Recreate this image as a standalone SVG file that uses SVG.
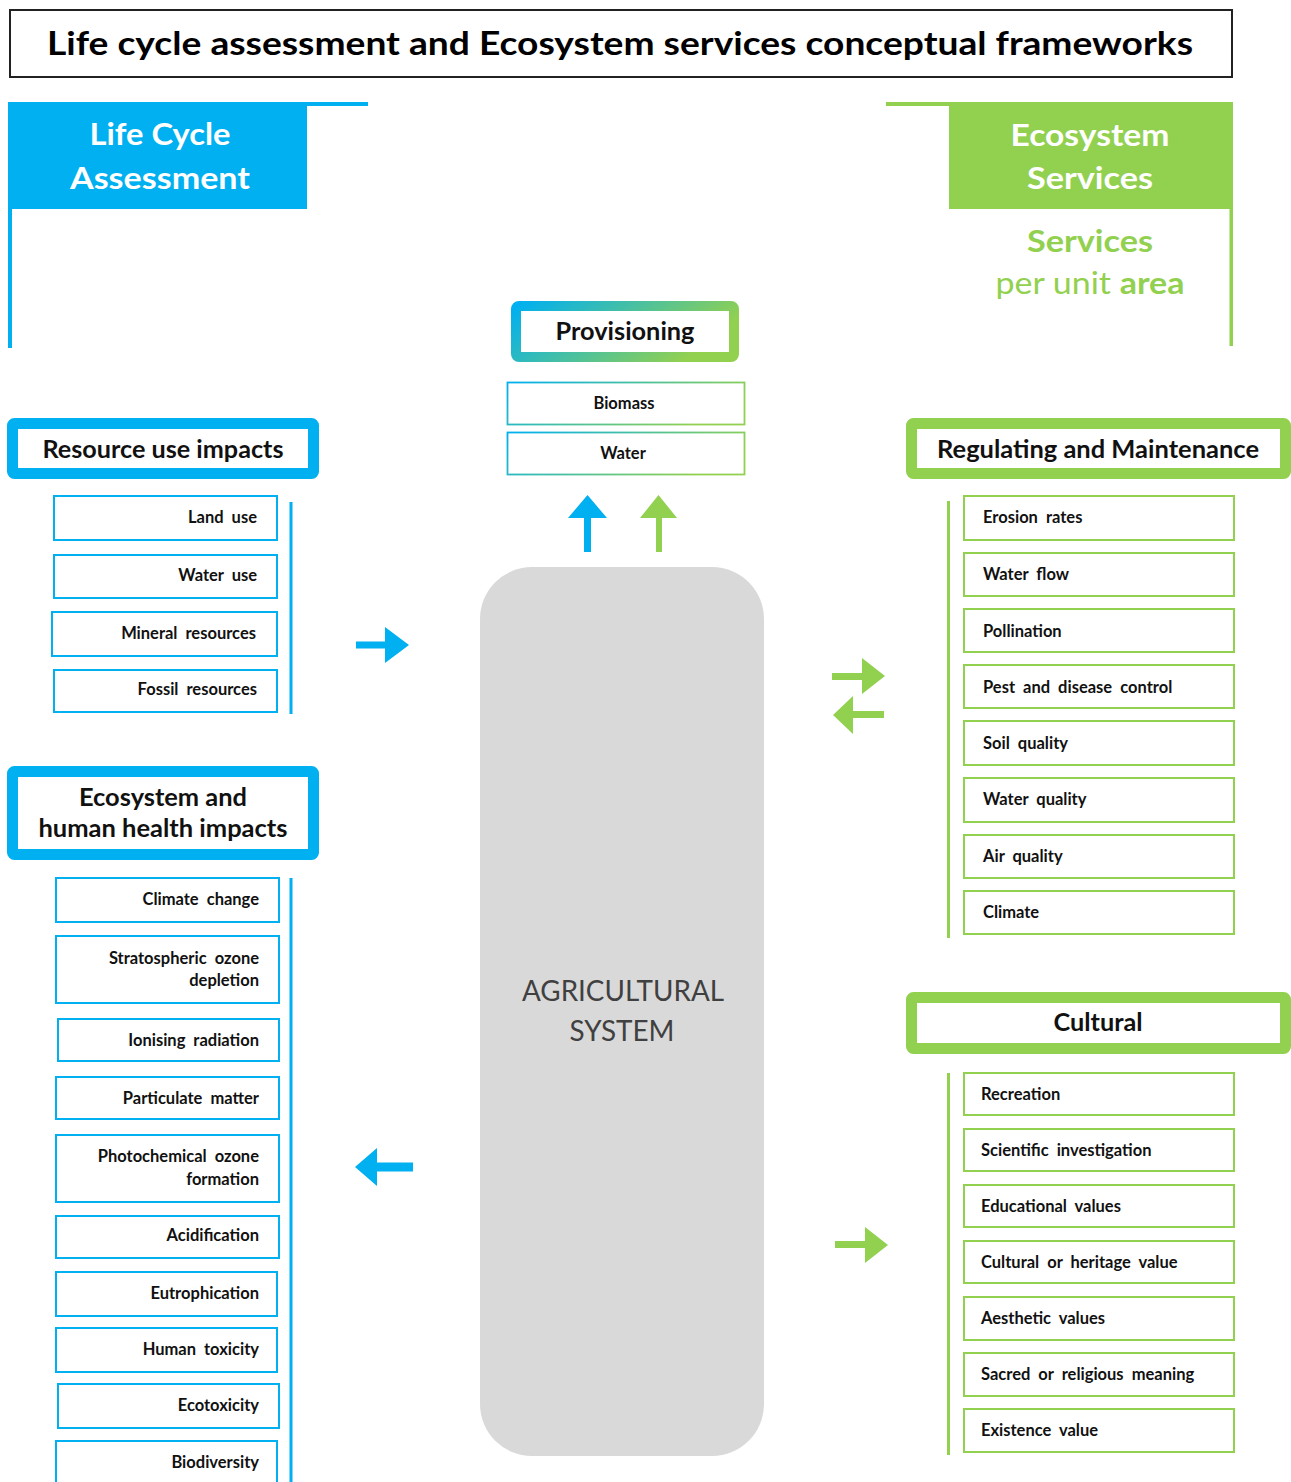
<svg xmlns="http://www.w3.org/2000/svg" width="1291" height="1482" viewBox="0 0 1291 1482">
<defs>
<linearGradient id="grad" gradientUnits="objectBoundingBox" x1="0" y1="0" x2="1" y2="0.3">
<stop offset="0" stop-color="#00B0F0"/>
<stop offset="1" stop-color="#92D050"/>
</linearGradient>
</defs>
<style>
text{font-family:Lato,"Liberation Sans",sans-serif;}
.title{font-size:32px;font-weight:bold;fill:#000;}
.hdr{font-size:31px;font-weight:bold;fill:#fff;text-anchor:middle;}
.sub{font-size:31px;fill:#92D050;text-anchor:middle;}
.cat{font-size:25px;font-weight:bold;fill:#111;text-anchor:middle;}
.item{font-size:16.5px;font-weight:bold;fill:#111;word-spacing:4px;}
.r{text-anchor:end;}
.c{text-anchor:middle;}
.bbox{fill:#fff;stroke:#00B0F0;stroke-width:2;}
.gbox{fill:#fff;stroke:#92D050;stroke-width:2;}
.bcat{fill:#fff;stroke:#00B0F0;stroke-width:11;}
.gcat{fill:#fff;stroke:#92D050;stroke-width:11;}
.blue{fill:#00B0F0;}
.green{fill:#92D050;}
.agri{font-size:28px;fill:#404040;text-anchor:middle;}
</style>

<g id="title">
<rect x="10" y="10" width="1222" height="67" fill="#fff" stroke="#222" stroke-width="2"/>
<text class="title" x="47" y="55" textLength="1146" lengthAdjust="spacingAndGlyphs">Life cycle assessment and Ecosystem services conceptual frameworks</text>
</g>

<g id="lca-header">
<rect x="8" y="102" width="299" height="107" class="blue"/>
<rect x="8" y="102" width="360" height="4" class="blue"/>
<rect x="8" y="102" width="4" height="246" class="blue"/>
<text class="hdr" x="160" y="145" textLength="141" lengthAdjust="spacingAndGlyphs">Life Cycle</text>
<text class="hdr" x="160" y="189" textLength="180" lengthAdjust="spacingAndGlyphs">Assessment</text>
</g>

<g id="es-header">
<rect x="949" y="102" width="284" height="107" class="green"/>
<rect x="886" y="102" width="347" height="4" class="green"/>
<rect x="1229.5" y="102" width="3.5" height="244" class="green"/>
<text class="hdr" x="1090" y="146" textLength="159" lengthAdjust="spacingAndGlyphs">Ecosystem</text>
<text class="hdr" x="1090" y="189" textLength="126" lengthAdjust="spacingAndGlyphs">Services</text>
<text class="sub" x="1090" y="252" font-weight="bold" textLength="126" lengthAdjust="spacingAndGlyphs">Services</text>
<text class="sub" x="1090" y="294" textLength="189" lengthAdjust="spacingAndGlyphs">per unit <tspan font-weight="bold">area</tspan></text>
</g>

<g id="provisioning">
<rect x="516" y="306" width="218" height="51" rx="3" fill="#fff" stroke="url(#grad)" stroke-width="10"/>
<text class="cat" x="625" y="340" textLength="139" lengthAdjust="spacingAndGlyphs">Provisioning</text>
</g>
<g id="biomass">
<rect x="507.5" y="382.5" width="237" height="42" fill="#fff" stroke="url(#grad)" stroke-width="1.8"/>
<text class="item c" x="624" y="409">Biomass</text>
</g>
<g id="water">
<rect x="507.5" y="432.5" width="237" height="42" fill="#fff" stroke="url(#grad)" stroke-width="1.8"/>
<text class="item c" x="623" y="459">Water</text>
</g>

<g id="agricultural-system">
<rect x="480" y="567" width="284" height="889" rx="52" fill="#D9D9D9"/>
<text class="agri" x="623" y="1001" textLength="202" lengthAdjust="spacingAndGlyphs">AGRICULTURAL</text>
<text class="agri" x="622" y="1041" textLength="105" lengthAdjust="spacingAndGlyphs">SYSTEM</text>
</g>

<g id="resource-use-impacts">
<rect x="12.5" y="423.5" width="301" height="50" rx="2" class="bcat"/>
<text class="cat" x="163" y="458" textLength="241" lengthAdjust="spacingAndGlyphs">Resource use impacts</text>
<rect x="289.5" y="502" width="3" height="212" class="blue"/>
</g>
<g id="land-use"><rect x="54" y="496" width="223" height="44" class="bbox"/><text class="item r" x="257" y="523">Land use</text></g>
<g id="water-use"><rect x="54" y="555" width="223" height="43" class="bbox"/><text class="item r" x="257" y="581">Water use</text></g>
<g id="mineral-resources"><rect x="52" y="612" width="225" height="44" class="bbox"/><text class="item r" x="256" y="639">Mineral resources</text></g>
<g id="fossil-resources"><rect x="54" y="670" width="223" height="42" class="bbox"/><text class="item r" x="257" y="695">Fossil resources</text></g>

<g id="ecosystem-human-health-impacts">
<rect x="12.5" y="771.5" width="301" height="83" rx="2" class="bcat"/>
<text class="cat" x="163" y="806" textLength="168" lengthAdjust="spacingAndGlyphs">Ecosystem and</text>
<text class="cat" x="163" y="837" textLength="249" lengthAdjust="spacingAndGlyphs">human health impacts</text>
<rect x="289.5" y="878" width="3" height="604" class="blue"/>
</g>
<g id="climate-change"><rect x="56" y="878" width="223" height="44" class="bbox"/><text class="item r" x="259" y="905">Climate change</text></g>
<g id="stratospheric-ozone"><rect x="56" y="936" width="223" height="67" class="bbox"/><text class="item r" x="259" y="964">Stratospheric ozone</text><text class="item r" x="259" y="986">depletion</text></g>
<g id="ionising-radiation"><rect x="58" y="1019" width="221" height="42" class="bbox"/><text class="item r" x="259" y="1046">Ionising radiation</text></g>
<g id="particulate-matter"><rect x="56" y="1077" width="223" height="42" class="bbox"/><text class="item r" x="259" y="1104">Particulate matter</text></g>
<g id="photochemical-ozone"><rect x="56" y="1135" width="223" height="67" class="bbox"/><text class="item r" x="259" y="1162">Photochemical ozone</text><text class="item r" x="259" y="1185">formation</text></g>
<g id="acidification"><rect x="56" y="1216" width="223" height="42" class="bbox"/><text class="item r" x="259" y="1241">Acidification</text></g>
<g id="eutrophication"><rect x="56" y="1272" width="221" height="44" class="bbox"/><text class="item r" x="259" y="1299">Eutrophication</text></g>
<g id="human-toxicity"><rect x="56" y="1328" width="221" height="44" class="bbox"/><text class="item r" x="259" y="1355">Human toxicity</text></g>
<g id="ecotoxicity"><rect x="58" y="1384" width="221" height="44" class="bbox"/><text class="item r" x="259" y="1411">Ecotoxicity</text></g>
<g id="biodiversity"><rect x="56" y="1441" width="221" height="50" class="bbox"/><text class="item r" x="259" y="1468">Biodiversity</text></g>

<g id="regulating-maintenance">
<rect x="911.5" y="423.5" width="374" height="50" rx="2" class="gcat"/>
<text class="cat" x="1098" y="458" textLength="322" lengthAdjust="spacingAndGlyphs">Regulating and Maintenance</text>
<rect x="947" y="501" width="3" height="437" class="green"/>
</g>
<g id="erosion-rates"><rect x="964" y="496" width="270" height="44" class="gbox"/><text class="item" x="983" y="523">Erosion rates</text></g>
<g id="water-flow"><rect x="964" y="553" width="270" height="43" class="gbox"/><text class="item" x="983" y="580">Water flow</text></g>
<g id="pollination"><rect x="964" y="609" width="270" height="43" class="gbox"/><text class="item" x="983" y="637">Pollination</text></g>
<g id="pest-disease-control"><rect x="964" y="665" width="270" height="43" class="gbox"/><text class="item" x="983" y="693">Pest and disease control</text></g>
<g id="soil-quality"><rect x="964" y="721" width="270" height="44" class="gbox"/><text class="item" x="983" y="749">Soil quality</text></g>
<g id="water-quality"><rect x="964" y="778" width="270" height="44" class="gbox"/><text class="item" x="983" y="805">Water quality</text></g>
<g id="air-quality"><rect x="964" y="835" width="270" height="43" class="gbox"/><text class="item" x="983" y="862">Air quality</text></g>
<g id="climate"><rect x="964" y="891" width="270" height="43" class="gbox"/><text class="item" x="983" y="918">Climate</text></g>

<g id="cultural">
<rect x="911.5" y="997.5" width="374" height="51" rx="2" class="gcat"/>
<text class="cat" x="1098" y="1031" textLength="89" lengthAdjust="spacingAndGlyphs">Cultural</text>
<rect x="947" y="1073" width="3" height="382" class="green"/>
</g>
<g id="recreation"><rect x="964" y="1073" width="270" height="42" class="gbox"/><text class="item" x="981" y="1100">Recreation</text></g>
<g id="scientific-investigation"><rect x="964" y="1129" width="270" height="42" class="gbox"/><text class="item" x="981" y="1156">Scientific investigation</text></g>
<g id="educational-values"><rect x="964" y="1185" width="270" height="42" class="gbox"/><text class="item" x="981" y="1212">Educational values</text></g>
<g id="cultural-heritage-value"><rect x="964" y="1241" width="270" height="42" class="gbox"/><text class="item" x="981" y="1268">Cultural or heritage value</text></g>
<g id="aesthetic-values"><rect x="964" y="1297" width="270" height="43" class="gbox"/><text class="item" x="981" y="1324">Aesthetic values</text></g>
<g id="sacred-religious-meaning"><rect x="964" y="1353" width="270" height="43" class="gbox"/><text class="item" x="981" y="1380">Sacred or religious meaning</text></g>
<g id="existence-value"><rect x="964" y="1409" width="270" height="43" class="gbox"/><text class="item" x="981" y="1436">Existence value</text></g>

<g id="connectors">
<polygon class="blue" points="584,552 584,518 568,518 587.5,495 607,518 591,518 591,552"/>
<polygon class="green" points="656,552 656,518 640,518 658.5,495 677,518 662,518 662,552"/>
<polygon class="blue" points="356,641.5 385,641.5 385,627 409,645 385,663 385,648.5 356,648.5"/>
<polygon class="blue" points="413,1162.5 377,1162.5 377,1148 355,1167 377,1186 377,1171.5 413,1171.5"/>
<polygon class="green" points="832,673 862,673 862,658 885,676 862,694 862,680 832,680"/>
<polygon class="green" points="884,711 853,711 853,696 833,715 853,734 853,718 884,718"/>
<polygon class="green" points="835,1241 865,1241 865,1227 888,1245 865,1263 865,1248 835,1248"/>
</g>
</svg>
